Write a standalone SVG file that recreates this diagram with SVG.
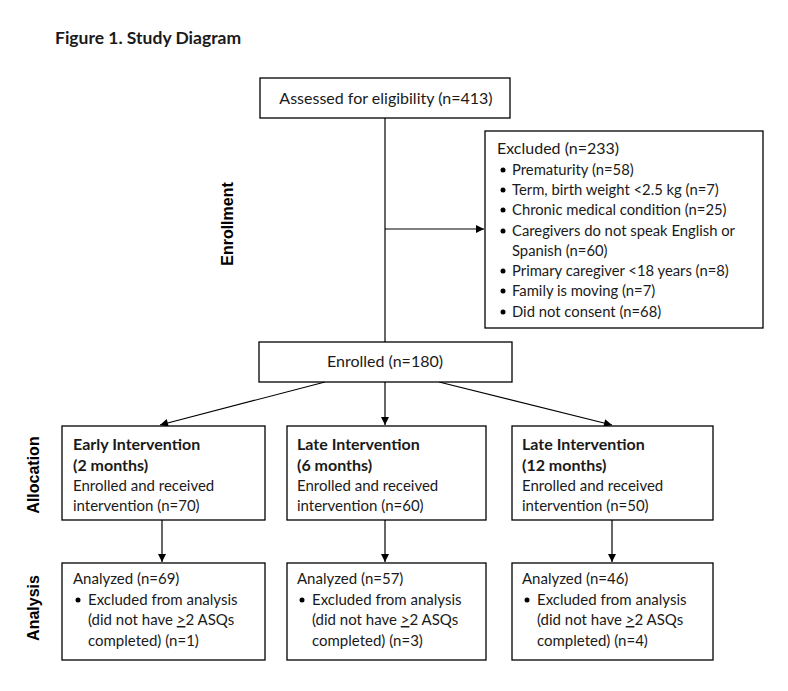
<svg xmlns="http://www.w3.org/2000/svg" width="788" height="691" viewBox="0 0 788 691">
<defs>
<marker id="ah" viewBox="0 0 10 10" refX="10" refY="5" markerWidth="10" markerHeight="8" markerUnits="userSpaceOnUse" orient="auto">
<path d="M0,0 L10,5 L0,10 z" fill="#000"/>
</marker>
<style>
.box{fill:#fff;stroke:#000;stroke-width:1.3}
.t{font-family:Lato,"Open Sans",sans-serif;font-size:15px;fill:#1a1a1a}
.m{font-size:16px}
.s{font-size:14.8px}
.b{font-weight:bold;font-size:16px}
.side{font-family:"Liberation Sans",Arial,sans-serif;font-size:16px;font-weight:bold;fill:#000}
.ln{stroke:#000;stroke-width:1.2;fill:none}
.u{text-decoration:underline}
</style>
</defs>
<rect width="788" height="691" fill="#fff"/>
<text class="t b" x="55" y="44" style="font-size:17.5px">Figure 1. Study Diagram</text>

<text class="side" transform="translate(233,224) rotate(-90)" text-anchor="middle">Enrollment</text>
<text class="side" transform="translate(39,475) rotate(-90)" text-anchor="middle">Allocation</text>
<text class="side" transform="translate(39,608) rotate(-90)" text-anchor="middle">Analysis</text>

<g id="connectors">
<line class="ln" x1="385" y1="118" x2="385" y2="342"/>
<line class="ln" x1="385" y1="229" x2="484" y2="229" marker-end="url(#ah)"/>
<line class="ln" x1="325" y1="382" x2="160" y2="425" marker-end="url(#ah)"/>
<line class="ln" x1="385" y1="382" x2="385" y2="425" marker-end="url(#ah)"/>
<line class="ln" x1="439" y1="382" x2="612" y2="425" marker-end="url(#ah)"/>
<line class="ln" x1="162" y1="520" x2="162" y2="562" marker-end="url(#ah)"/>
<line class="ln" x1="385" y1="520" x2="385" y2="562" marker-end="url(#ah)"/>
<line class="ln" x1="612" y1="520" x2="612" y2="562" marker-end="url(#ah)"/>
</g>

<g id="assessed">
<rect class="box" x="260" y="78" width="250" height="40"/>
<text class="t m" x="386" y="104" text-anchor="middle">Assessed for eligibility (n=413)</text>
</g>

<g id="excluded">
<rect class="box" x="485" y="131" width="278" height="197"/>
<text class="t m" x="497" y="154">Excluded (n=233)</text>
<g>
<circle cx="503" cy="170" r="2.5" fill="#000"/><text class="t s" x="512" y="175">Prematurity (n=58)</text>
<circle cx="503" cy="190" r="2.5" fill="#000"/><text class="t s" x="512" y="195">Term, birth weight &lt;2.5 kg (n=7)</text>
<circle cx="503" cy="210" r="2.5" fill="#000"/><text class="t s" x="512" y="215">Chronic medical condition (n=25)</text>
<circle cx="503" cy="231" r="2.5" fill="#000"/><text class="t s" x="512" y="236">Caregivers do not speak English or</text>
<text class="t s" x="512" y="256">Spanish (n=60)</text>
<circle cx="503" cy="271" r="2.5" fill="#000"/><text class="t s" x="512" y="276">Primary caregiver &lt;18 years (n=8)</text>
<circle cx="503" cy="291" r="2.5" fill="#000"/><text class="t s" x="512" y="296">Family is moving (n=7)</text>
<circle cx="503" cy="312" r="2.5" fill="#000"/><text class="t s" x="512" y="317">Did not consent (n=68)</text>
</g>
</g>

<g id="enrolled">
<rect class="box" x="259" y="342" width="253" height="40"/>
<text class="t m" x="385" y="367" text-anchor="middle">Enrolled (n=180)</text>
</g>

<g id="early">
<rect class="box" x="62" y="426" width="203" height="94"/>
<text class="t b" x="73" y="450">Early Intervention</text>
<text class="t b" x="73" y="471">(2 months)</text>
<text class="t" x="73" y="491">Enrolled and received</text>
<text class="t" x="73" y="511">intervention (n=70)</text>
</g>

<g id="late6">
<rect class="box" x="287" y="426" width="199" height="94"/>
<text class="t b" x="297" y="450">Late Intervention</text>
<text class="t b" x="297" y="471">(6 months)</text>
<text class="t" x="297" y="491">Enrolled and received</text>
<text class="t" x="297" y="511">intervention (n=60)</text>
</g>

<g id="late12">
<rect class="box" x="512" y="426" width="201" height="94"/>
<text class="t b" x="522" y="450">Late Intervention</text>
<text class="t b" x="522" y="471">(12 months)</text>
<text class="t" x="522" y="491">Enrolled and received</text>
<text class="t" x="522" y="511">intervention (n=50)</text>
</g>

<g id="analysis1">
<rect class="box" x="62" y="563" width="203" height="97"/>
<text class="t" x="73" y="584">Analyzed (n=69)</text>
<circle cx="78" cy="600" r="2.5" fill="#000"/>
<text class="t" x="88" y="605">Excluded from analysis</text>
<text class="t" x="88" y="625">(did not have <tspan class="u">&gt;</tspan>2 ASQs</text>
<text class="t" x="88" y="646">completed) (n=1)</text>
</g>

<g id="analysis2">
<rect class="box" x="287" y="563" width="199" height="97"/>
<text class="t" x="297" y="584">Analyzed (n=57)</text>
<circle cx="302" cy="600" r="2.5" fill="#000"/>
<text class="t" x="312" y="605">Excluded from analysis</text>
<text class="t" x="312" y="625">(did not have <tspan class="u">&gt;</tspan>2 ASQs</text>
<text class="t" x="312" y="646">completed) (n=3)</text>
</g>

<g id="analysis3">
<rect class="box" x="512" y="563" width="201" height="97"/>
<text class="t" x="522" y="584">Analyzed (n=46)</text>
<circle cx="527" cy="600" r="2.5" fill="#000"/>
<text class="t" x="537" y="605">Excluded from analysis</text>
<text class="t" x="537" y="625">(did not have <tspan class="u">&gt;</tspan>2 ASQs</text>
<text class="t" x="537" y="646">completed) (n=4)</text>
</g>
</svg>
